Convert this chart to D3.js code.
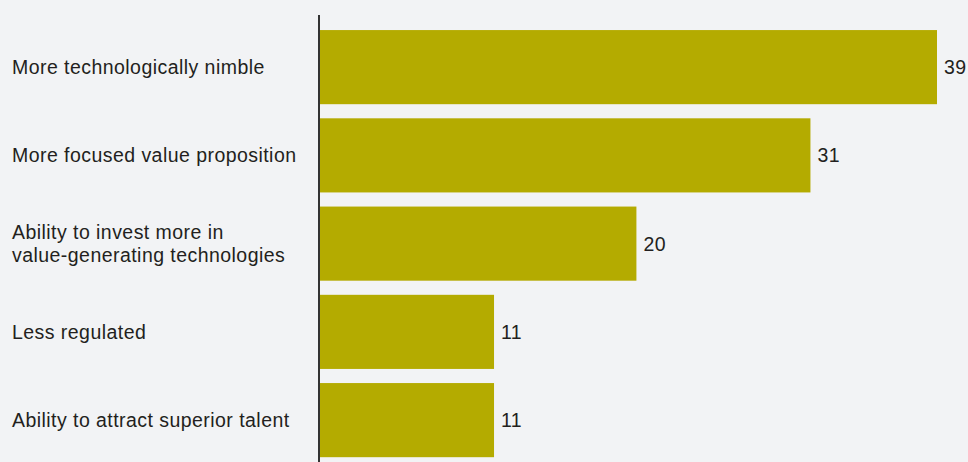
<!DOCTYPE html>
<html>
<head>
<meta charset="utf-8">
<script src="https://cdn.jsdelivr.net/npm/d3@7"></script>
<style>
  html, body { margin: 0; padding: 0; background: #f2f3f5; }
  svg { display: block; }
  text { font-family: "Liberation Sans", Arial, Helvetica, sans-serif; fill: #231f20; letter-spacing: 0.45px; }
</style>
</head>
<body>
<script>
// Survey categories (lines split where the label wraps) and percentages
const categories = [
  ["More technologically nimble"],
  ["More focused value proposition"],
  ["Ability to invest more in", "value-generating technologies"],
  ["Less regulated"],
  ["Ability to attract superior talent"]
];
const values = [39, 31, 20, 11, 11];

const width = 968, height = 462;
const margin = { top: 30, left: 320 };
const fontSize = 19.5;

const svg = d3.select("body").append("svg")
  .attr("width", width).attr("height", height);

svg.append("rect").attr("width", width).attr("height", height).attr("fill", "#f2f3f5");

const idx = d3.range(values.length);

const x = d3.scaleLinear().domain([0, 39]).range([margin.left, 937]);
const y = d3.scaleBand().domain(idx).range([margin.top - 7, margin.top - 7 + 88.25 * values.length]).paddingInner(0.16).paddingOuter(0.08);

// bars
svg.append("g").selectAll("rect").data(idx).join("rect")
  .attr("x", x(0))
  .attr("y", i => y(i))
  .attr("width", i => x(values[i]) - x(0))
  .attr("height", y.bandwidth())
  .attr("fill", "#b4ab00");

// value labels
svg.append("g").selectAll("text").data(idx).join("text")
  .attr("x", i => x(values[i]) + 7)
  .attr("y", i => y(i) + y.bandwidth() / 2)
  .attr("dy", "0.36em")
  .attr("font-size", fontSize)
  .text(i => values[i]);

// category labels
const lineH = 23.5;
const cat = svg.append("g").selectAll("text").data(idx).join("text")
  .attr("x", 12)
  .attr("y", i => y(i) + y.bandwidth() / 2 - (categories[i].length - 1) * lineH / 2)
  .attr("font-size", fontSize);
cat.selectAll("tspan").data(i => categories[i]).join("tspan")
  .attr("x", 12)
  .attr("dy", (d, j) => j === 0 ? "0.36em" : lineH)
  .text(d => d);

// vertical baseline
svg.append("line")
  .attr("x1", 319).attr("x2", 319)
  .attr("y1", 15).attr("y2", height)
  .attr("stroke", "#333").attr("stroke-width", 2);
</script>
</body>
</html>
